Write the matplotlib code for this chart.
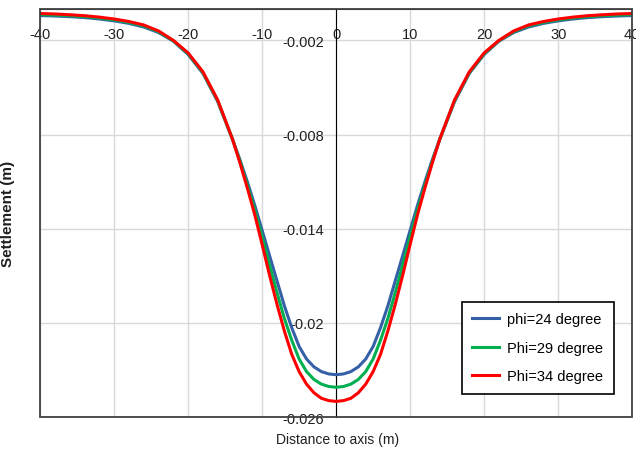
import numpy as np
import matplotlib
matplotlib.use('Agg')
import matplotlib.pyplot as plt
from matplotlib.patches import Rectangle

plt.rcParams['font.family'] = ['Liberation Sans', 'DejaVu Sans']
plt.rcParams['axes.unicode_minus'] = False

# distance to tunnel axis (m)
distance = [-40, -38, -36, -34, -32, -30, -28, -26, -24, -22, -20, -18, -16,
            -14, -13, -12, -11, -10, -9, -8, -7, -6, -5, -4, -3, -2, -1, 0,
            1, 2, 3, 4, 5, 6, 7, 8, 9, 10, 11, 12, 13, 14,
            16, 18, 20, 22, 24, 26, 28, 30, 32, 34, 36, 38, 40]

# settlement (m)
phi24 = [-0.00042, -0.00045, -0.00049, -0.00055, -0.00064, -0.00076, -0.00092, -0.00115,
         -0.00150, -0.00205, -0.00290, -0.00410, -0.00590,
         -0.00830, -0.00960, -0.01100, -0.01250, -0.01410, -0.01570, -0.01730, -0.01890,
         -0.02030, -0.02150, -0.02230, -0.02280, -0.02310, -0.02325, -0.02330,
         -0.02325, -0.02310, -0.02280, -0.02230, -0.02150, -0.02030, -0.01890, -0.01730,
         -0.01570, -0.01410, -0.01250, -0.01100, -0.00960, -0.00830,
         -0.00590, -0.00410, -0.00290, -0.00205, -0.00150, -0.00115, -0.00092, -0.00076,
         -0.00064, -0.00055, -0.00049, -0.00045, -0.00042]
phi29 = [-0.00036, -0.00039, -0.00043, -0.00049, -0.00058, -0.00070, -0.00086, -0.00108,
         -0.00145, -0.00202, -0.00285, -0.00405, -0.00585,
         -0.00830, -0.00970, -0.01120, -0.01280, -0.01450, -0.01630, -0.01805, -0.01970,
         -0.02110, -0.02230, -0.02310, -0.02360, -0.02390, -0.02405, -0.02410,
         -0.02405, -0.02390, -0.02360, -0.02310, -0.02230, -0.02110, -0.01970, -0.01805,
         -0.01630, -0.01450, -0.01280, -0.01120, -0.00970, -0.00830,
         -0.00585, -0.00405, -0.00285, -0.00202, -0.00145, -0.00108, -0.00086, -0.00070,
         -0.00058, -0.00049, -0.00043, -0.00039, -0.00036]
phi34 = [-0.00029, -0.00032, -0.00037, -0.00043, -0.00052, -0.00064, -0.00080, -0.00102,
         -0.00140, -0.00200, -0.00280, -0.00400, -0.00580,
         -0.00830, -0.00980, -0.01140, -0.01310, -0.01500, -0.01695, -0.01880, -0.02050,
         -0.02200, -0.02310, -0.02390, -0.02445, -0.02480, -0.02495, -0.02500,
         -0.02495, -0.02480, -0.02445, -0.02390, -0.02310, -0.02200, -0.02050, -0.01880,
         -0.01695, -0.01500, -0.01310, -0.01140, -0.00980, -0.00830,
         -0.00580, -0.00400, -0.00280, -0.00200, -0.00140, -0.00102, -0.00080, -0.00064,
         -0.00052, -0.00043, -0.00037, -0.00032, -0.00029]

series = [("phi=24 degree", phi24, '#3560a8'),
          ("Phi=29 degree", phi29, '#00b050'),
          ("Phi=34 degree", phi34, '#ff0000')]

x_ticks = [-40, -30, -20, -10, 0, 10, 20, 30, 40]
y_ticks = [-0.026, -0.02, -0.014, -0.008, -0.002]
y_labels = ['-0.026', '-0.02', '-0.014', '-0.008', '-0.002']

fig = plt.figure(figsize=(6.36, 4.52), dpi=100)
ax = fig.add_axes([0.063, 0.075, 0.931, 0.903])

for label, vals, col in series:
    ax.plot(distance, vals, color=col, lw=2.2, label=label, zorder=3,
            solid_joinstyle='round')

ax.set_xlim(-40, 40)
ax.set_ylim(-0.026, 0)
ax.set_xticks(x_ticks)
ax.set_yticks(y_ticks)
ax.set_yticklabels(y_labels)
ax.grid(True, color='#d9d9d9', lw=1)
ax.set_axisbelow(True)

# Excel-style axes crossing at the origin
ax.spines['left'].set_position(('data', 0))
ax.spines['bottom'].set_position(('data', 0))
ax.spines['left'].set_color('black')
ax.spines['bottom'].set_color('#404040')
ax.spines['top'].set_visible(False)
ax.spines['right'].set_visible(False)
ax.add_patch(Rectangle((0, 0), 1, 1, transform=ax.transAxes, fill=False,
                       ec='#404040', lw=1.3, clip_on=False, zorder=4))

ax.tick_params(axis='x', length=0, pad=13, labelsize=10.5, colors='#202020')
ax.tick_params(axis='y', length=0, pad=9, labelsize=10.5, colors='#202020')

ax.set_ylabel("Settlement (m)", fontsize=11, fontweight='bold', color='#202020')
ax.yaxis.set_label_coords(-0.042, 0.5)
ax.text(0.502, -0.054, "Distance to axis (m)", transform=ax.transAxes,
        ha='center', va='center', fontsize=10, color='#202020')

leg = ax.legend(loc='upper left', bbox_to_anchor=(0.713, 0.282), fontsize=10.5,
                frameon=True, fancybox=False, edgecolor='black', framealpha=1,
                handlelength=1.8, handletextpad=0.6, labelspacing=1.0,
                borderpad=0.7, borderaxespad=0)
leg.get_frame().set_linewidth(1.2)
leg.set_zorder(5)

fig.savefig("out.png", dpi=100, facecolor='white')
